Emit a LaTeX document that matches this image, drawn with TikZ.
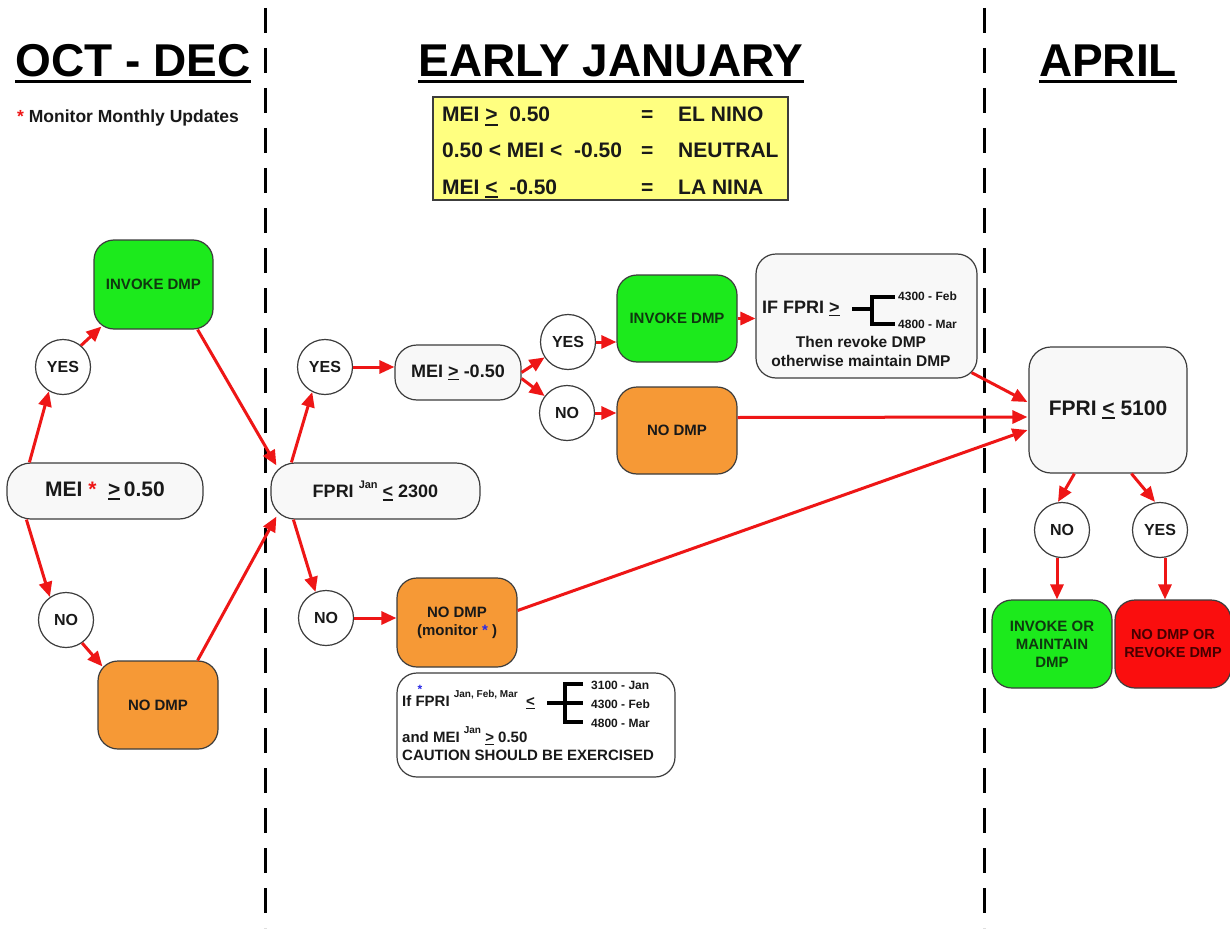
\documentclass[tikz,border=0pt]{standalone}
\usepackage{fontspec}
\setmainfont{Liberation Sans}
\usetikzlibrary{arrows.meta,calc}
\definecolor{arrred}{RGB}{238,22,22}
\definecolor{boxgray}{RGB}{248,248,248}
\definecolor{gfill}{RGB}{28,234,28}
\definecolor{ofill}{RGB}{246,153,54}
\definecolor{rfill}{RGB}{250,14,14}
\definecolor{yfill}{RGB}{255,255,128}
\definecolor{edgec}{RGB}{60,60,60}
\definecolor{txt}{RGB}{25,25,25}
\definecolor{gtxt}{RGB}{15,55,15}
\definecolor{rtxt}{RGB}{70,0,0}
\definecolor{astblue}{RGB}{40,40,230}
\newcommand\ulbox[1]{\vtop{\hbox{#1}\kern0.1em\hrule height 0.09em}}
\begin{document}
\begin{tikzpicture}[x=1pt,y=-1pt,
  nbox/.style={draw=edgec, line width=1.2pt, rounded corners=20pt, inner sep=0pt, align=center, text=txt, font=\bfseries\fontsize{15}{18}\selectfont},
  graybox/.style={nbox, fill=boxgray},
  grnbox/.style={nbox, fill=gfill, text=gtxt},
  orgbox/.style={nbox, fill=ofill},
  redbox/.style={nbox, fill=rfill, text=rtxt},
  circ/.style={circle, draw=edgec, line width=1.2pt, fill=white, minimum size=55pt, inner sep=0pt, text=txt, font=\bfseries\fontsize{16}{16}\selectfont},
  arr/.style={draw=arrred, line width=3pt, -{Triangle[length=15pt,width=13pt]}},
  lbl/.style={inner sep=0pt, text=txt, font=\bfseries},
  hdr/.style={inner sep=0pt, anchor=base, text=black, font=\bfseries\fontsize{46}{46}\selectfont},
  vdash/.style={line width=3pt, dash pattern=on 25pt off 15pt},
  brk/.style={draw=black, line width=3.2pt}
]
\useasboundingbox (0,0) rectangle (1230,928);
\fill[white] (0,0) rectangle (1230,928);

% dashed separators
\draw[vdash] (265,8) -- (265,928);
\draw[vdash] (984,8) -- (984,928);

% headers
\node[hdr] (h1) at (133,77) {OCT - DEC};
\node[hdr] (h2) at (611,77) {EARLY JANUARY};
\node[hdr] (h3) at (1108,77) {APRIL};
\foreach \h in {h1,h2,h3}{
  \draw[line width=3pt] ($(\h.base west)+(0,5)$) -- ($(\h.base east)+(0,5)$);
}
\node[lbl, anchor=base west, font=\bfseries\fontsize{17.5}{17.5}\selectfont] (mon) at (17,123) {{\color{arrred}*} Monitor Monthly Updates};

% yellow legend
\node[draw=edgec, line width=1.2pt, fill=yfill, minimum width=355pt, minimum height=103pt, inner sep=0pt] (ybox) at (610.5,148.5) {};
\tikzset{ylbl/.style={lbl, anchor=base west, font=\bfseries\fontsize{21}{21}\selectfont}}
\node[ylbl] (y1a) at (442,122) {MEI \ulbox{>}\ \ 0.50};
\node[ylbl] (y1b) at (641,122) {=};
\node[ylbl] (y1c) at (678,122) {EL NINO};
\node[ylbl] (y2a) at (442,158) {0.50 < MEI <\ \ -0.50};
\node[ylbl] (y2b) at (641,158) {=};
\node[ylbl] (y2c) at (678,158) {NEUTRAL};
\node[ylbl] (y3a) at (442,194) {MEI \ulbox{<}\ \ -0.50};
\node[ylbl] (y3b) at (641,194) {=};
\node[ylbl] (y3c) at (678,194) {LA NINA};

% OCT-DEC column
\node[graybox, minimum width=196pt, minimum height=56pt, rounded corners=24pt, font=\bfseries\fontsize{21}{21}\selectfont] (mei) at (105,491) {MEI {\color{arrred}*}\ \ \ulbox{>}\,0.50};
\node[circ] (yesA) at (63,367) {YES};
\node[circ] (noA) at (66,620) {NO};
\node[grnbox, minimum width=119pt, minimum height=89pt] (invA) at (153.5,284.5) {INVOKE DMP};
\node[orgbox, minimum width=120pt, minimum height=88pt] (nodmpA) at (158,705) {NO DMP};

% EARLY JANUARY column
\node[graybox, minimum width=209pt, minimum height=56pt, rounded corners=24pt, font=\bfseries\fontsize{18}{18}\selectfont] (fpri) at (375.5,491) {FPRI \raisebox{0.5em}{\fontsize{11}{11}\selectfont Jan} \ulbox{<} 2300};
\node[circ] (yesB) at (325,367) {YES};
\node[circ] (noB) at (326,618) {NO};
\node[graybox, minimum width=126pt, minimum height=55pt, rounded corners=22pt, font=\bfseries\fontsize{18}{18}\selectfont] (mei2) at (458,372.5) {MEI \ulbox{>} -0.50};
\node[circ] (yesC) at (568,342) {YES};
\node[circ] (noC) at (567,413) {NO};
\node[grnbox, minimum width=120pt, minimum height=87pt] (invB) at (677,318.5) {INVOKE DMP};
\node[orgbox, minimum width=120pt, minimum height=87pt] (nodmpC) at (677,430.5) {NO DMP};
\node[orgbox, minimum width=120pt, minimum height=89pt] (nodmpB) at (457,622.5) {NO DMP\\(monitor {\color{astblue}*} )};

% IF FPRI box
\node[graybox, minimum width=221pt, minimum height=124pt] (iff) at (866.5,316) {};
\node[lbl, anchor=base west, font=\bfseries\fontsize{18}{18}\selectfont] (ift) at (762,313) {IF FPRI \ulbox{>}};
\draw[brk] (852,309) -- (872,309);
\draw[brk] (895,297) -| (872,324) -- (895,324);
\node[lbl, anchor=base west, font=\bfseries\fontsize{12}{12}\selectfont] (f1) at (898,300) {4300 - Feb};
\node[lbl, anchor=base west, font=\bfseries\fontsize{12}{12}\selectfont] (f2) at (898,328) {4800 - Mar};
\node[lbl, anchor=base, font=\bfseries\fontsize{15.5}{15.5}\selectfont] (then) at (861,347) {Then revoke DMP};
\node[lbl, anchor=base, font=\bfseries\fontsize{15.5}{15.5}\selectfont] (oth) at (861,366) {otherwise maintain DMP};

% caution box
\node[graybox, fill=white, minimum width=278pt, minimum height=104pt] (caut) at (536,725) {};
\node[lbl, text=astblue, font=\bfseries\fontsize{12}{12}\selectfont] (cast) at (420,689) {*};
\node[lbl, anchor=base west, font=\bfseries\fontsize{15}{15}\selectfont] (c1) at (402,706) {If FPRI \raisebox{0.55em}{\fontsize{10}{10}\selectfont Jan, Feb, Mar}\ \ \ulbox{<}};
\draw[brk] (547,703) -- (583,703);
\draw[brk] (583,684) -| (565,722) -- (583,722);
\node[lbl, anchor=base west, font=\bfseries\fontsize{12}{12}\selectfont] (c2) at (591,689) {3100 - Jan};
\node[lbl, anchor=base west, font=\bfseries\fontsize{12}{12}\selectfont] (c3) at (591,708) {4300 - Feb};
\node[lbl, anchor=base west, font=\bfseries\fontsize{12}{12}\selectfont] (c4) at (591,727) {4800 - Mar};
\node[lbl, anchor=base west, font=\bfseries\fontsize{15}{15}\selectfont] (c5) at (402,742) {and MEI \raisebox{0.55em}{\fontsize{10}{10}\selectfont Jan} \ulbox{>} 0.50};
\node[lbl, anchor=base west, font=\bfseries\fontsize{15}{15}\selectfont] (c6) at (402,760) {CAUTION SHOULD BE EXERCISED};

% APRIL column
\node[graybox, minimum width=158pt, minimum height=126pt, rounded corners=22pt, font=\bfseries\fontsize{21}{21}\selectfont] (fpri2) at (1108,410) {FPRI \ulbox{<} 5100};
\node[circ] (noD) at (1062,530) {NO};
\node[circ] (yesE) at (1160,530) {YES};
\node[grnbox, minimum width=120pt, minimum height=88pt] (invC) at (1052,644) {INVOKE OR\\MAINTAIN\\DMP};
\node[redbox, minimum width=116pt, minimum height=88pt, font=\bfseries\fontsize{14.5}{18}\selectfont] (redb) at (1173,644) {NO DMP OR\\REVOKE DMP};

% connectors
\draw[arr] ($(mei.north west)+(23,0)$) -- (yesA.240);
\draw[arr] (yesA.50) -- ($(invA.south west)+(8,-3)$);
\draw[arr] ($(mei.south west)+(20,0)$) -- (noA.125);
\draw[arr] (noA.-55) -- ($(nodmpA.north west)+(5,6)$);
\draw[arr] ($(invA.south east)+(-16,0)$) -- ($(fpri.north west)+(6,3)$);
\draw[arr] ($(nodmpA.north east)+(-21,0)$) -- ($(fpri.south west)+(6,-3)$);
\draw[arr] ($(fpri.north west)+(21,0)$) -- (yesB.243);
\draw[arr] ($(fpri.south west)+(23,0)$) -- (noB.112);
\draw[arr] (yesB.east) -- (yesB.east -| mei2.west);
\draw[arr] (noB.east) -- (noB.east -| nodmpB.west);
\draw[arr] (mei2.east) -- (yesC);
\draw[arr] ($(mei2.east)+(0,6)$) -- (noC);
\draw[arr] (yesC.east) -- (yesC.east -| invB.west);
\draw[arr] (noC.east) -- (noC.east -| nodmpC.west);
\draw[arr] (invB.east) -- (invB.east -| iff.west);
\draw[arr] ($(iff.south east)+(-6,-6)$) -- ($(fpri2.west)+(-1,-8)$);
\draw[arr] ($(nodmpC.east)+(0,-13)$) -- ($(fpri2.west)+(-1,7)$);
\draw[arr] ($(nodmpB.east)+(0,-12)$) -- ($(fpri2.west)+(-1,20)$);
\draw[arr] ($(fpri2.south west)+(46,0)$) -- ($(noD.north)+(-4,0)$);
\draw[arr] ($(fpri2.south west)+(103,0)$) -- ($(yesE.north)+(-5,0)$);
\coordinate (nD) at ($(noD.south)+(-5,0)$);
\draw[arr] (nD) -- (nD |- invC.north);
\coordinate (yE) at ($(yesE.south)+(5,0)$);
\draw[arr] (yE) -- (yE |- redb.north);
\end{tikzpicture}
\end{document}
